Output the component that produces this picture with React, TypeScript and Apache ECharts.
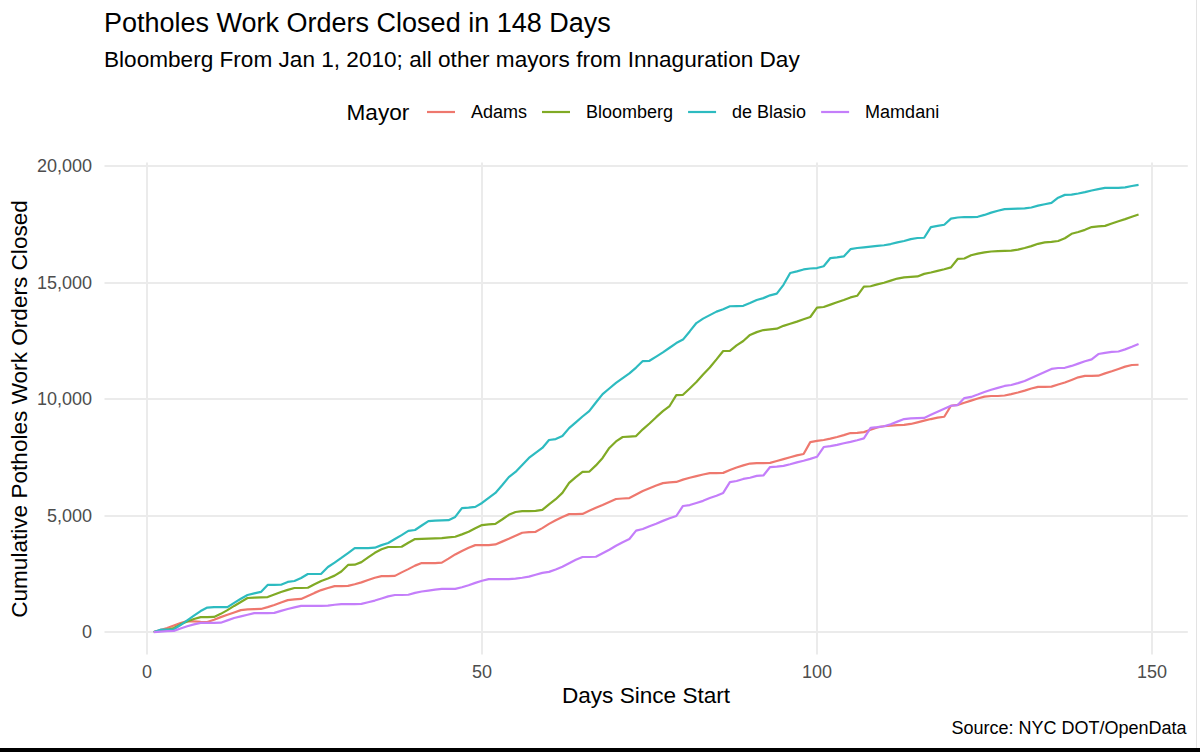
import React, { useEffect, useRef } from "react";
import * as echarts from "echarts";

const mayors = ["Adams", "Bloomberg", "de Blasio", "Mamdani"];
const mayorColors = ["#EE786E", "#80AA25", "#2DBBC0", "#C47EFA"];

const adams = [
  0, 80, 170, 280, 390, 470, 460, 440, 430, 530,
  640, 740, 840, 940, 970, 980, 990, 1070, 1160, 1270,
  1370, 1400, 1420, 1550, 1680, 1800, 1890, 1970, 1970, 1980,
  2050, 2130, 2230, 2330, 2400, 2400, 2410, 2560, 2700, 2850,
  2960, 2960, 2960, 2980, 3150, 3330, 3480, 3620, 3730, 3730,
  3730, 3760, 3880, 4000, 4130, 4260, 4290, 4300, 4460, 4640,
  4800, 4940, 5060, 5060, 5070, 5200, 5330, 5450, 5580, 5710,
  5730, 5750, 5900, 6050, 6170, 6290, 6390, 6420, 6440, 6540,
  6620, 6690, 6760, 6820, 6820, 6830, 6950, 7060, 7150, 7230,
  7250, 7250, 7260, 7340, 7420, 7500, 7580, 7640, 8150, 8200,
  8240, 8300, 8370, 8450, 8540, 8550, 8580, 8680, 8780, 8830,
  8860, 8880, 8890, 8930, 9000, 9070, 9140, 9200, 9240, 9710,
  9750, 9840, 9930, 10020, 10100, 10130, 10130, 10150, 10210, 10280,
  10360, 10450, 10520, 10520, 10530, 10620, 10710, 10820, 10930, 10990,
  10990, 11000, 11100, 11190, 11290, 11390, 11460, 11470,
];

const bloomberg = [
  0, 50, 100, 170, 330, 450, 560, 640, 640, 650,
  780, 940, 1120, 1290, 1460, 1480, 1490, 1500, 1610, 1720,
  1810, 1890, 1890, 1900, 2050, 2190, 2300, 2420, 2600, 2880,
  2890, 3000, 3200, 3400, 3550, 3650, 3650, 3660, 3830, 3990,
  4000, 4010, 4020, 4030, 4060, 4090, 4190, 4300, 4450, 4590,
  4620, 4640, 4830, 5030, 5150, 5190, 5190, 5200, 5240, 5480,
  5700, 5970, 6400, 6650, 6870, 6880, 7150, 7470, 7900, 8180,
  8370, 8390, 8410, 8700, 8950, 9220, 9480, 9700, 10170, 10180,
  10450, 10730, 11050, 11350, 11700, 12060, 12070, 12300, 12490, 12750,
  12870, 12960, 12990, 13020, 13140, 13230, 13320, 13420, 13520, 13920,
  13950, 14050, 14150, 14250, 14360, 14430, 14820, 14840, 14920, 14990,
  15080, 15170, 15220, 15240, 15260, 15370, 15430, 15500, 15570, 15650,
  16010, 16030, 16170, 16240, 16290, 16330, 16350, 16360, 16370, 16410,
  16480, 16560, 16660, 16720, 16740, 16780, 16900, 17090, 17170, 17260,
  17380, 17410, 17430, 17530, 17630, 17720, 17820, 17920,
];

const deBlasio = [
  0, 100, 100, 120, 300, 500, 700, 900, 1050, 1070,
  1070, 1070, 1250, 1430, 1590, 1660, 1720, 2020, 2020, 2030,
  2150, 2190, 2320, 2490, 2490, 2500, 2790, 2980, 3180, 3390,
  3600, 3600, 3600, 3620, 3730, 3820, 3990, 4160, 4340, 4380,
  4570, 4760, 4780, 4790, 4800, 4940, 5320, 5340, 5370, 5540,
  5760, 5970, 6300, 6650, 6870, 7170, 7470, 7690, 7900, 8240,
  8280, 8410, 8750, 9000, 9250, 9480, 9850, 10210, 10450, 10690,
  10900, 11100, 11350, 11630, 11640, 11820, 12000, 12200, 12400, 12550,
  12900, 13260, 13450, 13600, 13750, 13850, 13980, 13990, 14000, 14120,
  14250, 14330, 14450, 14520, 14900, 15410, 15480, 15560, 15600, 15620,
  15700, 16050, 16080, 16120, 16430, 16480, 16510, 16540, 16570, 16600,
  16650, 16720, 16780, 16860, 16910, 16920, 17380, 17430, 17480, 17740,
  17790, 17810, 17810, 17820, 17900, 18000, 18080, 18150, 18160, 18170,
  18180, 18220, 18300, 18360, 18420, 18640, 18760, 18770, 18820, 18880,
  18950, 19010, 19060, 19060, 19060, 19080, 19140, 19190,
];

const mamdani = [
  0, 20, 40, 50, 150, 250, 330, 390, 390, 390,
  400, 500, 600, 670, 740, 810, 810, 810, 820, 910,
  990, 1060, 1120, 1120, 1120, 1120, 1130, 1170, 1200, 1200,
  1200, 1210, 1280, 1350, 1440, 1530, 1590, 1590, 1600, 1680,
  1740, 1780, 1820, 1850, 1850, 1850, 1920, 2010, 2110, 2200,
  2270, 2270, 2270, 2270, 2290, 2330, 2380, 2460, 2540, 2580,
  2680, 2800, 2950, 3100, 3220, 3220, 3230, 3380, 3530, 3700,
  3850, 3990, 4350, 4420, 4540, 4650, 4770, 4880, 4980, 5410,
  5450, 5540, 5630, 5750, 5850, 5970, 6430, 6480, 6570, 6620,
  6700, 6720, 7080, 7100, 7130, 7200, 7280, 7350, 7430, 7520,
  7940, 7980, 8030, 8100, 8160, 8230, 8310, 8760, 8790, 8830,
  8920, 9030, 9140, 9170, 9180, 9190, 9320, 9450, 9580, 9710,
  9740, 10040, 10090, 10190, 10300, 10400, 10480, 10560, 10600, 10680,
  10770, 10900, 11030, 11160, 11290, 11330, 11340, 11420, 11520, 11620,
  11700, 11930, 11980, 12020, 12040, 12130, 12240, 12360,
];

const seriesValues = [adams, bloomberg, deBlasio, mamdani];
const xTicks = [0, 50, 100, 150];
const yTicks = [0, 5000, 10000, 15000, 20000];

const titleText = "Potholes Work Orders Closed in 148 Days";
const subtitleText = "Bloomberg From Jan 1, 2010; all other mayors from Innaguration Day";
const legendTitle = "Mayor";
const xTitle = "Days Since Start";
const yTitle = "Cumulative Potholes Work Orders Closed";
const captionText = "Source: NYC DOT/OpenData";

const FONT = '"Liberation Sans", Arial, Helvetica, sans-serif';

export default function App() {
  const ref = useRef<HTMLDivElement>(null);

  useEffect(() => {
    if (!ref.current) return;
    const chart = echarts.init(ref.current, undefined, { renderer: "svg" });

    const series = mayors.map((name, k) => ({
      name,
      type: "line",
      data: seriesValues[k].map((v, i) => [i + 1, v]),
      showSymbol: false,
      symbol: "none",
      lineStyle: { width: 2.2, color: mayorColors[k] },
      itemStyle: { color: mayorColors[k] },
      emphasis: { disabled: true },
      silent: true,
    }));

    chart.setOption({
      animation: false,
      backgroundColor: "#FFFFFF",
      textStyle: { fontFamily: FONT },
      grid: { left: 104.5, right: 12.2, top: 162.5, bottom: 97.6 },
      xAxis: {
        type: "value",
        min: -6.35,
        max: 155.35,
        splitNumber: 3,
        axisLine: { show: false },
        axisTick: { show: false },
        axisLabel: {
          margin: 9,
          fontSize: 18,
          fontFamily: FONT,
          color: "#4D4D4D",
          showMinLabel: false,
          showMaxLabel: false,
          formatter: (v: number) => (xTicks.includes(v) ? String(v) : ""),
        },
        splitLine: {
          show: true,
          showMinLine: false,
          showMaxLine: false,
          lineStyle: { color: "#EBEBEB", width: 2 },
        },
      },
      yAxis: {
        type: "value",
        min: -960,
        max: 20150,
        splitNumber: 4,
        axisLine: { show: false },
        axisTick: { show: false },
        axisLabel: {
          margin: 12.5,
          fontSize: 18,
          fontFamily: FONT,
          color: "#4D4D4D",
          showMinLabel: false,
          showMaxLabel: false,
          formatter: (v: number) =>
            yTicks.includes(v) ? v.toLocaleString("en-US") : "",
        },
        splitLine: {
          show: true,
          showMinLine: false,
          showMaxLine: false,
          lineStyle: { color: "#EBEBEB", width: 2 },
        },
      },
      legend: {
        data: mayors,
        left: 427,
        top: 103,
        padding: 0,
        icon: "rect",
        itemWidth: 28,
        itemHeight: 2.2,
        itemGap: 15,
        selectedMode: false,
        textStyle: {
          fontSize: 18,
          fontFamily: FONT,
          color: "#000000",
          padding: [0, 0, 0, 11],
        },
      },
      graphic: [
        {
          type: "text",
          left: 104,
          top: 9,
          style: { text: titleText, fontSize: 27, fontFamily: FONT, fill: "#000000" },
        },
        {
          type: "text",
          left: 104,
          top: 48,
          style: { text: subtitleText, fontSize: 22.6, fontFamily: FONT, fill: "#000000" },
        },
        {
          type: "text",
          left: 346.5,
          top: 100.5,
          style: { text: legendTitle, fontSize: 22.6, fontFamily: FONT, fill: "#000000" },
        },
        {
          type: "text",
          x: 646,
          y: 695,
          style: {
            text: xTitle,
            fontSize: 22.6,
            fontFamily: FONT,
            fill: "#000000",
            textAlign: "center",
            textVerticalAlign: "middle",
          },
        },
        {
          type: "text",
          x: 19,
          y: 409,
          rotation: Math.PI / 2,
          style: {
            text: yTitle,
            fontSize: 22.6,
            fontFamily: FONT,
            fill: "#000000",
            textAlign: "center",
            textVerticalAlign: "middle",
          },
        },
        {
          type: "text",
          x: 1186.5,
          y: 728,
          style: {
            text: captionText,
            fontSize: 18,
            fontFamily: FONT,
            fill: "#000000",
            textAlign: "right",
            textVerticalAlign: "middle",
          },
        },
        {
          type: "rect",
          shape: { x: 0, y: 748, width: 1200, height: 4 },
          style: { fill: "#000000" },
          silent: true,
        },
        {
          type: "rect",
          shape: { x: 1196, y: 0, width: 1, height: 748 },
          style: { fill: "#E3E3E3" },
          silent: true,
        },
      ],
      series,
    });

    return () => {
      chart.dispose();
    };
  }, []);

  return (
    <div
      ref={ref}
      style={{
        position: "absolute",
        left: 0,
        top: 0,
        width: 1200,
        height: 752,
        background: "#FFFFFF",
      }}
    />
  );
}
